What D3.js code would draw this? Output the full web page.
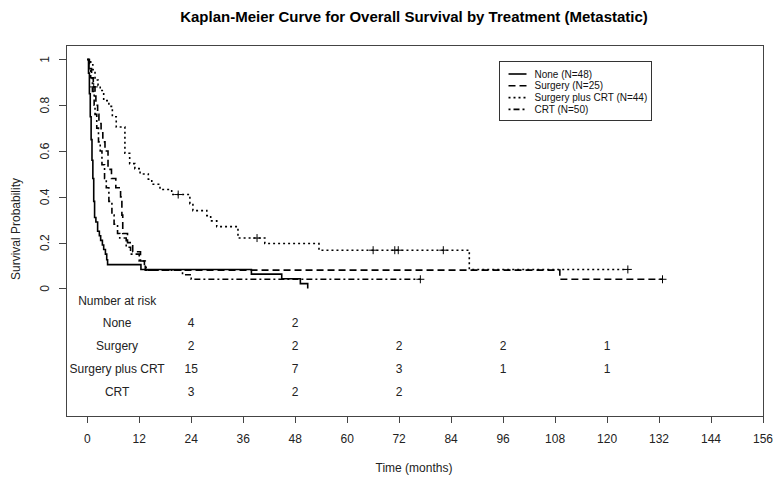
<!DOCTYPE html>
<html>
<head>
<meta charset="utf-8">
<script src="https://cdn.jsdelivr.net/npm/d3@7"></script>
<style>
  body { margin: 0; background: #fff; }
  svg { display: block; font-family: Arial, "Liberation Sans", sans-serif; }
  .tick-label { font-size: 12px; fill: #222; }
  .risk { font-size: 12px; fill: #222; }
  .legend-text { font-size: 10px; fill: #111; }
</style>
</head>
<body>
<div id="viz"></div>
<script>
const width = 780;
const height = 483;

// Kaplan-Meier steps (time in months, survival)
const noneTime = [0, 0.3, 0.5, 0.7, 0.9, 1.1, 1.3, 1.5, 1.7, 2.0, 2.4, 2.8, 3.1, 3.5, 3.8, 4.2, 4.5, 4.7, 12.4, 37.9, 44.9, 49.2, 50.9];
const noneSurv = [1, 0.94, 0.85, 0.75, 0.65, 0.56, 0.48, 0.38, 0.31, 0.29, 0.25, 0.23, 0.21, 0.19, 0.17, 0.15, 0.125, 0.104, 0.083, 0.0625, 0.042, 0.021, 0];

const surgTime = [0, 0.5, 1.0, 1.4, 1.8, 2.0, 2.4, 2.7, 3.2, 3.6, 4.1, 4.8, 5.6, 6.6, 7.7, 8.0, 8.2, 9.3, 10.5, 12.3, 13.4, 109.1, 132.8];
const surgSurv = [1, 0.96, 0.92, 0.88, 0.84, 0.80, 0.76, 0.72, 0.68, 0.64, 0.60, 0.52, 0.48, 0.44, 0.40, 0.32, 0.24, 0.20, 0.16, 0.12, 0.08, 0.04, 0.04];

const scrtTime = [0, 0.8, 1.3, 1.8, 2.5, 3.0, 3.8, 5.0, 5.8, 6.7, 8.7, 9.8, 11.0, 12.2, 14.1, 14.9, 16.8, 19.5, 23.7, 24.4, 27.6, 28.5, 29.9, 34.8, 41.0, 53.5, 88.2, 124.8];
const scrtSurv = [1, 0.977, 0.955, 0.91, 0.886, 0.864, 0.82, 0.795, 0.75, 0.705, 0.59, 0.545, 0.523, 0.50, 0.477, 0.455, 0.432, 0.41, 0.37, 0.34, 0.318, 0.295, 0.27, 0.22, 0.196, 0.167, 0.083, 0.083];

const crtTime = [0, 0.4, 0.8, 1.2, 1.6, 1.8, 2.2, 2.6, 3.0, 3.4, 4.0, 4.4, 5.0, 5.7, 6.2, 7.0, 7.5, 9.0, 10.0, 12.0, 13.2, 13.6, 22.0, 24.0, 76.9];
const crtSurv = [1, 0.96, 0.92, 0.86, 0.80, 0.76, 0.70, 0.64, 0.60, 0.54, 0.48, 0.44, 0.38, 0.32, 0.28, 0.24, 0.22, 0.18, 0.15, 0.12, 0.10, 0.08, 0.06, 0.04, 0.04];

// censoring marks
const surgCensorTime = [1.5, 132.8];
const surgCensorSurv = [0.88, 0.04];
const scrtCensorTime = [21.0, 39.2, 66.0, 71.0, 71.8, 82.2, 124.8];
const scrtCensorSurv = [0.41, 0.22, 0.167, 0.167, 0.167, 0.167, 0.083];
const crtCensorTime = [76.9];
const crtCensorSurv = [0.04];

const groupNames = ["None", "Surgery", "Surgery plus CRT", "CRT"];
const groupN = [48, 25, 44, 50];
const groupDash = [null, "7,4", "2,3", "2,3,6,3"];

const riskTimes = [24, 48, 72, 96, 120];
const riskNone = [4, 2];
const riskSurg = [2, 2, 2, 2, 1];
const riskScrt = [15, 7, 3, 1, 1];
const riskCrt = [3, 2, 2];

const xTicks = d3.range(0, 157, 12);
const yTicks = [0, 0.2, 0.4, 0.6, 0.8, 1];

const groups = [
  { time: noneTime, surv: noneSurv, ct: [], cs: [], risk: riskNone },
  { time: surgTime, surv: surgSurv, ct: surgCensorTime, cs: surgCensorSurv, risk: riskSurg },
  { time: scrtTime, surv: scrtSurv, ct: scrtCensorTime, cs: scrtCensorSurv, risk: riskScrt },
  { time: crtTime, surv: crtSurv, ct: crtCensorTime, cs: crtCensorSurv, risk: riskCrt }
];

const svg = d3.select("#viz").append("svg")
  .attr("width", width)
  .attr("height", height);

const x = d3.scaleLinear().domain([-4.9, 156]).range([66, 763]);
const y = d3.scaleLinear().domain([-0.557, 1.063]).range([416, 45]);

// Title
svg.append("text")
  .attr("x", 414).attr("y", 22)
  .attr("text-anchor", "middle")
  .style("font-size", "15px").style("font-weight", "bold").style("fill", "#000")
  .text("Kaplan-Meier Curve for Overall Survival by Treatment (Metastatic)");

// Plot box
svg.append("rect")
  .attr("x", 66.5).attr("y", 45.5)
  .attr("width", 697).attr("height", 371)
  .attr("fill", "none").attr("stroke", "#444");

// X axis ticks
const xAxis = svg.append("g");
xAxis.selectAll("line").data(xTicks).enter().append("line")
  .attr("x1", d => Math.round(x(d)) + 0.5).attr("x2", d => Math.round(x(d)) + 0.5)
  .attr("y1", 416).attr("y2", 423)
  .attr("stroke", "#444");
xAxis.selectAll("text").data(xTicks).enter().append("text")
  .attr("class", "tick-label")
  .attr("x", d => x(d)).attr("y", 443)
  .attr("text-anchor", "middle")
  .text(d => d);

// Y axis ticks
const yAxis = svg.append("g");
yAxis.selectAll("line").data(yTicks).enter().append("line")
  .attr("x1", 59).attr("x2", 66)
  .attr("y1", d => Math.round(y(d)) + 0.5).attr("y2", d => Math.round(y(d)) + 0.5)
  .attr("stroke", "#444");
yAxis.selectAll("text").data(yTicks).enter().append("text")
  .attr("class", "tick-label")
  .attr("transform", d => "translate(49," + y(d) + ") rotate(-90)")
  .attr("text-anchor", "middle")
  .text(d => d);

// Axis titles
svg.append("text")
  .attr("class", "tick-label")
  .attr("x", 414).attr("y", 472)
  .attr("text-anchor", "middle")
  .text("Time (months)");
svg.append("text")
  .attr("class", "tick-label")
  .attr("transform", "translate(20,229) rotate(-90)")
  .attr("text-anchor", "middle")
  .text("Survival Probability");

// Curves
const line = d3.line()
  .x(d => x(d[0]))
  .y(d => y(d[1]))
  .curve(d3.curveStepAfter);

groups.forEach((g, i) => {
  const pts = g.time.map((t, k) => [t, g.surv[k]]);
  svg.append("path")
    .attr("d", line(pts))
    .attr("fill", "none")
    .attr("stroke", "#000")
    .attr("stroke-width", 1.6)
    .attr("stroke-dasharray", groupDash[i]);

  svg.append("g").selectAll("path")
    .data(g.ct.map((t, k) => [t, g.cs[k]]))
    .enter().append("path")
    .attr("d", d => {
      const cx = x(d[0]), cy = y(d[1]);
      return "M" + (cx - 4) + "," + cy + "H" + (cx + 4) + "M" + cx + "," + (cy - 4) + "V" + (cy + 4);
    })
    .attr("stroke", "#000")
    .attr("stroke-width", 1);
});

// Number at risk table
const riskRowY = [-0.15, -0.25, -0.35, -0.45];
svg.append("text")
  .attr("class", "risk")
  .attr("x", x(-2.1)).attr("y", y(-0.054) + 4.5)
  .text("Number at risk");

groups.forEach((g, i) => {
  svg.append("text")
    .attr("class", "risk")
    .attr("x", x(6.9)).attr("y", y(riskRowY[i]) + 4.5)
    .attr("text-anchor", "middle")
    .text(groupNames[i]);
  svg.append("g").selectAll("text")
    .data(g.risk)
    .enter().append("text")
    .attr("class", "risk")
    .attr("x", (d, k) => x(riskTimes[k]))
    .attr("y", y(riskRowY[i]) + 4.5)
    .attr("text-anchor", "middle")
    .text(d => d);
});

// Legend
const legend = svg.append("g").attr("transform", "translate(499.5,61.5)");
legend.append("rect")
  .attr("width", 152).attr("height", 59)
  .attr("fill", "#fff").attr("stroke", "#333");
const items = legend.selectAll(".legend").data(groupNames).enter().append("g")
  .attr("class", "legend")
  .attr("transform", (d, i) => "translate(0," + (12.5 + i * 11.8) + ")");
items.append("line")
  .attr("x1", 9).attr("x2", 27)
  .attr("stroke", "#000").attr("stroke-width", 1.6)
  .attr("stroke-dasharray", (d, i) => groupDash[i]);
items.append("text")
  .attr("class", "legend-text")
  .attr("x", 35).attr("y", 3.5)
  .text((d, i) => d + " (N=" + groupN[i] + ")");
</script>
</body>
</html>
